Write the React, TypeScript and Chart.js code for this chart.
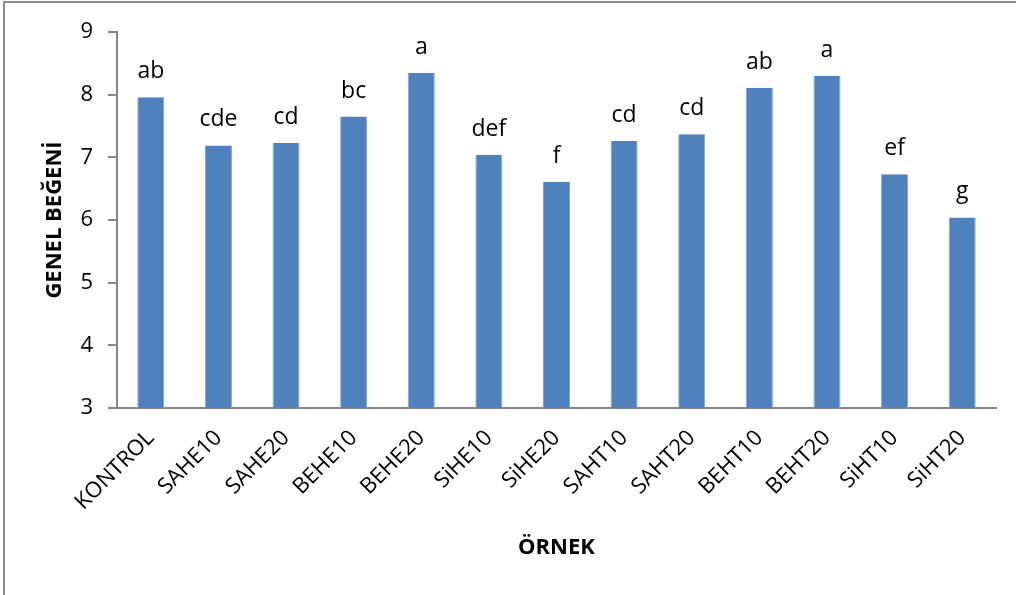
import React, { useEffect, useRef } from "react";
import { Chart, registerables } from "chart.js";

Chart.register(...registerables);

const categories = ["KONTROL", "SAHE10", "SAHE20", "BEHE10", "BEHE20", "SiHE10", "SiHE20", "SAHT10", "SAHT20", "BEHT10", "BEHT20", "SiHT10", "SiHT20"];
const values = [7.96, 7.19, 7.23, 7.65, 8.35, 7.04, 6.61, 7.26, 7.37, 8.11, 8.30, 6.73, 6.04];
const letters = ["ab", "cde", "cd", "bc", "a", "def", "f", "cd", "cd", "ab", "a", "ef", "g"];
const yTitle = "GENEL BEĞENİ";
const xTitle = "ÖRNEK";
const yMin = 3;
const yMax = 9;

const FONT = "'Open Sans', 'Noto Sans', sans-serif";

const overlay = {
  id: "overlay",
  afterDatasetsDraw(chart: any) {
    const ctx = chart.ctx;
    const meta = chart.getDatasetMeta(0);
    ctx.save();
    ctx.fillStyle = "#000";
    ctx.font = `23px ${FONT}`;
    ctx.textAlign = "center";
    ctx.textBaseline = "alphabetic";
    meta.data.forEach((bar: any, i: number) => {
      ctx.fillText(letters[i], bar.x, bar.y - 19);
    });
    // axis titles
    const area = chart.chartArea;
    ctx.font = `bold 22px ${FONT}`;
    ctx.textBaseline = "middle";
    ctx.fillText(xTitle, (area.left + area.right) / 2, 548);
    ctx.translate(55, (area.top + area.bottom) / 2);
    ctx.rotate(-Math.PI / 2);
    ctx.fillText(yTitle, 0, 0);
    ctx.restore();
    // outer frame
    ctx.save();
    ctx.fillStyle = "#8c8c8c";
    ctx.fillRect(3, 1, 2, chart.height);
    ctx.fillRect(3, 1, chart.width, 2);
    ctx.restore();
  },
};

export default function App() {
  const ref = useRef<HTMLCanvasElement | null>(null);
  useEffect(() => {
    if (!ref.current) return;
    const chart = new Chart(ref.current, {
      type: "bar",
      data: {
        labels: categories,
        datasets: [
          {
            data: values,
            backgroundColor: "#4F81BD",
            borderColor: "#7ea3d2",
            borderWidth: { left: 1, right: 1, top: 0, bottom: 0 },
            barPercentage: 0.4,
            categoryPercentage: 1,
          },
        ],
      },
      options: {
        animation: false,
        responsive: false,
        maintainAspectRatio: false,
        layout: { padding: { top: 32, right: 20, left: 0, bottom: 0 } },
        plugins: { legend: { display: false }, tooltip: { enabled: false } },
        scales: {
          x: {
            grid: { display: true, drawOnChartArea: false, drawTicks: false, color: "rgba(0,0,0,0)" },
            border: { display: true, color: "#868686", width: 2 },
            ticks: {
              color: "#000",
              font: { family: FONT, size: 22 },
              maxRotation: 45,
              minRotation: 45,
              padding: 17,
              autoSkip: false,
            },
            afterFit: (s: any) => {
              s.height = 187;
            },
          },
          y: {
            min: yMin,
            max: yMax,
            grid: { display: true, drawOnChartArea: false, drawTicks: true, tickLength: 9, color: "#868686", lineWidth: 2 },
            border: { display: true, color: "#868686", width: 2 },
            ticks: {
              stepSize: 1,
              color: "#000",
              font: { family: FONT, size: 22 },
              padding: 15,
            },
            afterFit: (s: any) => {
              s.width = 117;
            },
          },
        },
      },
      plugins: [overlay],
    });
    return () => chart.destroy();
  }, []);
  return (
    <div style={{ position: "absolute", left: 0, top: 0, width: 1016, height: 595, background: "#fff" }}>
      <canvas ref={ref} width={1016} height={595} style={{ width: 1016, height: 595, display: "block" }} />
    </div>
  );
}
